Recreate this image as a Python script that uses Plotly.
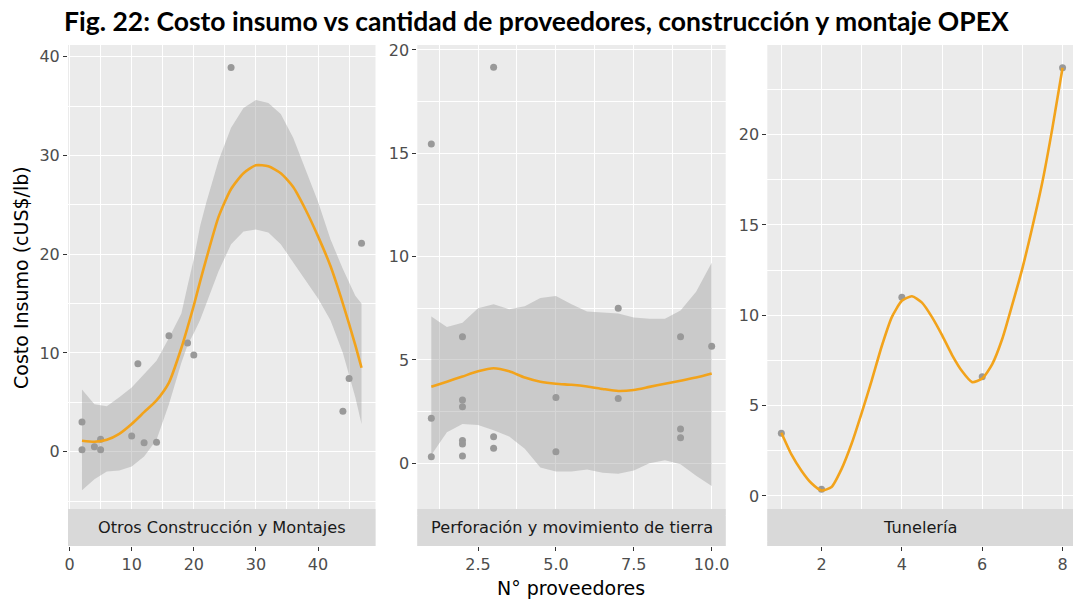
import plotly.graph_objects as go

# ---------------- data ----------------
# Panel 1: Otros Construcción y Montajes
p1_x = [2, 2, 4, 5, 5, 10, 11, 12, 14, 16, 19, 20, 26, 44, 45, 47]
p1_y = [3.0, 0.2, 0.5, 1.25, 0.2, 1.6, 8.9, 0.9, 0.95, 11.75, 11.0, 9.8, 38.9, 4.1, 7.4, 21.1]
s1_x = [2, 4, 6, 8, 10, 12, 14, 16, 18, 19, 20, 21, 22, 24, 26, 28, 30, 32, 34, 36, 38, 40, 42, 44, 46, 47]
s1_fit = [1.1, 1.0, 1.2, 1.8, 2.8, 4.0, 5.2, 7.0, 10.5, 12.6, 14.8, 17.2, 19.5, 23.8, 26.6, 28.2, 29.0, 28.9, 28.2, 26.8, 24.5, 21.8, 18.8, 15.0, 10.8, 8.5]
s1_hi = [6.3, 4.8, 4.6, 5.5, 6.5, 7.8, 9.2, 11.5, 14.0, 16.8, 19.5, 22.8, 25.2, 29.5, 32.8, 34.8, 35.6, 35.3, 34.2, 31.8, 28.5, 25.3, 21.5, 18.5, 15.8, 15.0]
s1_lo = [-3.9, -2.8, -2.0, -1.9, -1.5, -0.5, 1.2, 4.8, 9.0, 10.8, 12.0, 13.3, 15.0, 18.3, 21.0, 22.3, 22.5, 22.2, 21.0, 19.2, 17.3, 15.5, 13.3, 10.0, 5.5, 2.8]

# Panel 2: Perforación y movimiento de tierra
p2_x = [1, 1, 1, 2, 2, 2, 2, 2, 2, 3, 3, 3, 5, 5, 7, 7, 9, 9, 9, 10]
p2_y = [15.45, 2.18, 0.32, 6.13, 3.06, 2.74, 1.1, 0.93, 0.35, 19.16, 1.29, 0.73, 3.19, 0.56, 7.5, 3.14, 6.13, 1.66, 1.24, 5.67]
s2_x = [1, 1.5, 2, 2.5, 3, 3.5, 4, 4.5, 5, 5.5, 6, 6.5, 7, 7.5, 8, 8.5, 9, 9.5, 10]
s2_fit = [3.7, 3.95, 4.2, 4.45, 4.6, 4.45, 4.15, 3.95, 3.85, 3.8, 3.72, 3.6, 3.5, 3.55, 3.7, 3.85, 4.0, 4.15, 4.35]
s2_hi = [7.1, 6.6, 6.8, 7.5, 7.7, 7.45, 7.6, 8.0, 8.1, 7.7, 7.35, 7.3, 7.25, 7.05, 7.0, 7.0, 7.4, 8.3, 9.7]
s2_lo = [0.4, 1.5, 1.9, 1.85, 1.6, 1.3, 0.7, -0.2, -0.4, -0.4, -0.3, -0.45, -0.5, -0.35, 0.0, 0.15, -0.05, -0.6, -1.1]

# Panel 3: Tunelería
p3_x = [1, 2, 4, 6, 8]
p3_y = [3.47, 0.37, 11.0, 6.6, 23.7]
s3_x = [1, 1.25, 1.5, 1.75, 2, 2.25, 2.5, 2.75, 3, 3.25, 3.5, 3.75, 4, 4.25, 4.5, 4.75, 5, 5.25, 5.5, 5.75, 6, 6.25, 6.5, 6.75, 7, 7.25, 7.5, 7.75, 8]
s3_fit = [3.5, 2.3, 1.4, 0.7, 0.3, 0.5, 1.5, 2.9, 4.6, 6.4, 8.3, 9.9, 10.8, 11.05, 10.7, 9.9, 8.9, 7.8, 6.9, 6.3, 6.5, 7.3, 8.7, 10.6, 12.6, 14.9, 17.4, 20.4, 23.7]

strip_labels = ["Otros Construcción y Montajes", "Perforación y movimiento de tierra", "Tunelería"]
title_text = "Fig. 22: Costo insumo vs cantidad de proveedores, construcción y montaje OPEX"
x_title = "N° proveedores"
y_title = "Costo Insumo (cUS$/lb)"

# ---------------- styling ----------------
W, H = 1073, 604
PANEL_BG = "#EBEBEB"
STRIP_BG = "#D9D9D9"
PT_COLOR = "#999999"
LINE_COLOR = "#F2A31B"
BAND = "rgba(153,153,153,0.4)"
FONT = "DejaVu Sans"

def px_x(p):
    return p / W

def px_y(p):
    return 1 - p / H

top_px, bottom_px, strip_top_px = 45, 546, 509
panels = [
    dict(dom=(68, 375.5), xr=(-0.25, 49.25), yr=(-9.55, 41.18), xd=10, xm=5, yd=10, ym=5, xfmt=None),
    dict(dom=(417.3, 725.7), xr=(0.55, 10.45), yr=(-4.0, 20.24), xd=2.5, xm=1.25, yd=5, ym=2.5, xfmt=".1f"),
    dict(dom=(767.3, 1073), xr=(0.65, 8.26), yr=(-2.77, 24.96), xd=2, xm=1, yd=5, ym=2.5, xfmt=None),
]

fig = go.Figure()

series = [
    (p1_x, p1_y, s1_x, s1_fit, s1_hi, s1_lo),
    (p2_x, p2_y, s2_x, s2_fit, s2_hi, s2_lo),
    (p3_x, p3_y, s3_x, s3_fit, None, None),
]

for i, (px, py, sx, sf, shi, slo) in enumerate(series):
    xa = "x" if i == 0 else f"x{i+1}"
    ya = "y" if i == 0 else f"y{i+1}"
    fig.add_trace(go.Scatter(x=px, y=py, mode="markers", xaxis=xa, yaxis=ya,
                             marker=dict(color=PT_COLOR, size=7), showlegend=False, hoverinfo="skip"))
    if shi is not None:
        fig.add_trace(go.Scatter(x=list(sx) + list(sx[::-1]), y=list(shi) + list(slo[::-1]),
                                 mode="lines", fill="toself", fillcolor=BAND, line=dict(width=0),
                                 xaxis=xa, yaxis=ya, showlegend=False, hoverinfo="skip"))
    fig.add_trace(go.Scatter(x=sx, y=sf, mode="lines", xaxis=xa, yaxis=ya,
                             line=dict(color=LINE_COLOR, width=2.6, shape="spline", smoothing=0.6),
                             showlegend=False, hoverinfo="skip"))

layout = dict(
    width=W, height=H,
    margin=dict(l=0, r=0, t=0, b=0, autoexpand=False),
    paper_bgcolor="white", plot_bgcolor=PANEL_BG,
    showlegend=False,
    font=dict(family=FONT, color="#4D4D4D"),
)

shapes = []
annotations = []
for i, p in enumerate(panels):
    xk = "xaxis" if i == 0 else f"xaxis{i+1}"
    yk = "yaxis" if i == 0 else f"yaxis{i+1}"
    ya = "y" if i == 0 else f"y{i+1}"
    xa = "x" if i == 0 else f"x{i+1}"
    xaxis = dict(
        domain=[px_x(p["dom"][0]), px_x(p["dom"][1])], range=list(p["xr"]), anchor=ya,
        automargin=False,
        tickmode="linear", tick0=0, dtick=p["xd"],
        showgrid=True, gridcolor="white", gridwidth=1.3, zeroline=False, showline=False,
        ticks="outside", ticklen=4, tickwidth=1, tickcolor="#333333",
        tickfont=dict(size=16, color="#4D4D4D", family=FONT),
        minor=dict(tickmode="linear", tick0=0, dtick=p["xm"], showgrid=True, gridcolor="white", gridwidth=0.6),
    )
    if p["xfmt"]:
        xaxis["tickformat"] = p["xfmt"]
    yaxis = dict(
        domain=[px_y(bottom_px), px_y(top_px)], range=list(p["yr"]), anchor=xa,
        automargin=False,
        tickmode="linear", tick0=0, dtick=p["yd"],
        showgrid=True, gridcolor="white", gridwidth=1.3, zeroline=False, showline=False,
        ticks="outside", ticklen=4, tickwidth=1, tickcolor="#333333",
        tickfont=dict(size=16, color="#4D4D4D", family=FONT),
        minor=dict(tickmode="linear", tick0=0, dtick=p["ym"], showgrid=True, gridcolor="white", gridwidth=0.6),
    )
    layout[xk] = xaxis
    layout[yk] = yaxis
    shapes.append(dict(type="rect", xref="paper", yref="paper",
                       x0=px_x(p["dom"][0]), x1=px_x(p["dom"][1]),
                       y0=px_y(bottom_px), y1=px_y(strip_top_px),
                       fillcolor=STRIP_BG, line=dict(width=0), layer="above"))
    annotations.append(dict(text=strip_labels[i], xref="paper", yref="paper",
                            x=px_x((p["dom"][0] + p["dom"][1]) / 2), y=px_y((bottom_px + strip_top_px) / 2),
                            xanchor="center", yanchor="middle", showarrow=False,
                            font=dict(size=16.2, color="#1A1A1A", family=FONT)))

annotations.append(dict(text=f"<b>{title_text}</b>", xref="paper", yref="paper",
                        x=px_x(536), y=px_y(21), xanchor="center", yanchor="middle", showarrow=False,
                        font=dict(size=26.5, color="black", family="Lato")))
annotations.append(dict(text=x_title, xref="paper", yref="paper",
                        x=px_x(571), y=px_y(588), xanchor="center", yanchor="middle", showarrow=False,
                        font=dict(size=19, color="black", family=FONT)))
annotations.append(dict(text=y_title, xref="paper", yref="paper",
                        x=px_x(21), y=px_y(278), xanchor="center", yanchor="middle", showarrow=False,
                        textangle=-90, font=dict(size=19, color="black", family=FONT)))

layout["shapes"] = shapes
layout["annotations"] = annotations
fig.update_layout(**layout)

fig.write_html("out.html", config={"displayModeBar": False},
               post_script="document.body.style.margin='0';document.body.style.overflow='hidden';")
